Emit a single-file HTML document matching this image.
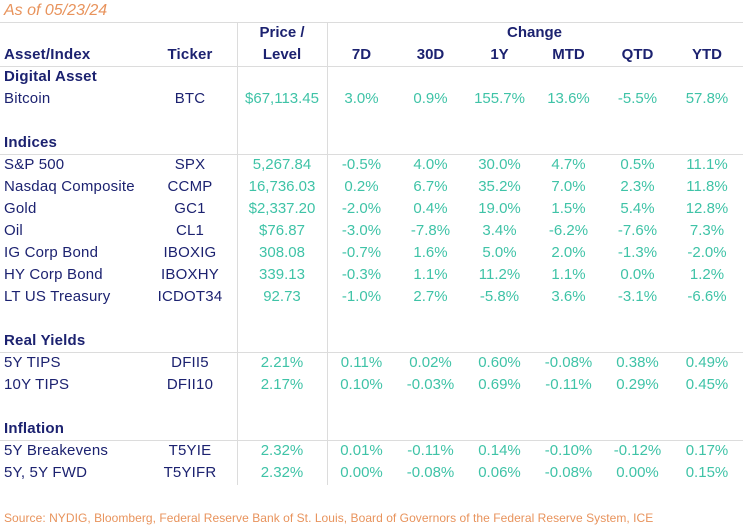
<!DOCTYPE html>
<html><head><meta charset="utf-8">
<style>
*{margin:0;padding:0;box-sizing:border-box}
html,body{width:743px;height:530px;background:#fff;overflow:hidden}
body{position:relative;font-family:"Liberation Sans",sans-serif;color:#1c2270}
.t{position:absolute;left:4px;top:1px;font-style:italic;font-size:16px;color:#e8935c;line-height:20px}
.hl{position:absolute;left:0;width:743px;height:1px;background:#dcdcdc}
.vl{position:absolute;top:22px;height:463px;width:1px;background:#dcdcdc}
.r{position:absolute;left:0;width:743px;height:22px;line-height:22px;font-size:15px}
.r span{position:absolute;top:0;text-align:center;white-space:nowrap}
.lab{left:4px!important;text-align:left!important;letter-spacing:0.2px}
.b{font-weight:bold}
.tk{left:143px;width:94px;letter-spacing:0.2px}
.p{left:237px;width:90px}
.c1{left:327px;width:69px}.c2{left:396px;width:69px}.c3{left:465px;width:69px}
.c4{left:534px;width:69px}.c5{left:603px;width:69px}.c6{left:672px;width:70px}
.g{color:#3fc3a7}
.src{position:absolute;left:4px;top:510px;font-size:12px;color:#e8935c;line-height:16px;letter-spacing:0.05px}
</style></head><body>
<div class="t">As of 05/23/24</div>
<div class="hl" style="top:22px"></div>
<div class="hl" style="top:66px"></div>
<div class="hl" style="top:154px"></div>
<div class="hl" style="top:352px"></div>
<div class="hl" style="top:440px"></div>
<div class="vl" style="left:237px"></div>
<div class="vl" style="left:327px"></div>

<div class="r b" style="top:22px"><span class="p">Price /</span><span style="left:327px;width:415px">Change</span></div>
<div class="r b" style="top:44px"><span class="lab">Asset/Index</span><span class="tk">Ticker</span><span class="p">Level</span><span class="c1">7D</span><span class="c2">30D</span><span class="c3">1Y</span><span class="c4">MTD</span><span class="c5">QTD</span><span class="c6">YTD</span></div>

<div class="r b" style="top:66px"><span class="lab">Digital Asset</span></div>
<div class="r" style="top:88px"><span class="lab">Bitcoin</span><span class="tk">BTC</span><span class="p g">$67,113.45</span><span class="c1 g">3.0%</span><span class="c2 g">0.9%</span><span class="c3 g">155.7%</span><span class="c4 g">13.6%</span><span class="c5 g">-5.5%</span><span class="c6 g">57.8%</span></div>

<div class="r b" style="top:132px"><span class="lab">Indices</span></div>
<div class="r" style="top:154px"><span class="lab">S&amp;P 500</span><span class="tk">SPX</span><span class="p g">5,267.84</span><span class="c1 g">-0.5%</span><span class="c2 g">4.0%</span><span class="c3 g">30.0%</span><span class="c4 g">4.7%</span><span class="c5 g">0.5%</span><span class="c6 g">11.1%</span></div>
<div class="r" style="top:176px"><span class="lab">Nasdaq Composite</span><span class="tk">CCMP</span><span class="p g">16,736.03</span><span class="c1 g">0.2%</span><span class="c2 g">6.7%</span><span class="c3 g">35.2%</span><span class="c4 g">7.0%</span><span class="c5 g">2.3%</span><span class="c6 g">11.8%</span></div>
<div class="r" style="top:198px"><span class="lab">Gold</span><span class="tk">GC1</span><span class="p g">$2,337.20</span><span class="c1 g">-2.0%</span><span class="c2 g">0.4%</span><span class="c3 g">19.0%</span><span class="c4 g">1.5%</span><span class="c5 g">5.4%</span><span class="c6 g">12.8%</span></div>
<div class="r" style="top:220px"><span class="lab">Oil</span><span class="tk">CL1</span><span class="p g">$76.87</span><span class="c1 g">-3.0%</span><span class="c2 g">-7.8%</span><span class="c3 g">3.4%</span><span class="c4 g">-6.2%</span><span class="c5 g">-7.6%</span><span class="c6 g">7.3%</span></div>
<div class="r" style="top:242px"><span class="lab">IG Corp Bond</span><span class="tk">IBOXIG</span><span class="p g">308.08</span><span class="c1 g">-0.7%</span><span class="c2 g">1.6%</span><span class="c3 g">5.0%</span><span class="c4 g">2.0%</span><span class="c5 g">-1.3%</span><span class="c6 g">-2.0%</span></div>
<div class="r" style="top:264px"><span class="lab">HY Corp Bond</span><span class="tk">IBOXHY</span><span class="p g">339.13</span><span class="c1 g">-0.3%</span><span class="c2 g">1.1%</span><span class="c3 g">11.2%</span><span class="c4 g">1.1%</span><span class="c5 g">0.0%</span><span class="c6 g">1.2%</span></div>
<div class="r" style="top:286px"><span class="lab">LT US Treasury</span><span class="tk">ICDOT34</span><span class="p g">92.73</span><span class="c1 g">-1.0%</span><span class="c2 g">2.7%</span><span class="c3 g">-5.8%</span><span class="c4 g">3.6%</span><span class="c5 g">-3.1%</span><span class="c6 g">-6.6%</span></div>

<div class="r b" style="top:330px"><span class="lab">Real Yields</span></div>
<div class="r" style="top:352px"><span class="lab">5Y TIPS</span><span class="tk">DFII5</span><span class="p g">2.21%</span><span class="c1 g">0.11%</span><span class="c2 g">0.02%</span><span class="c3 g">0.60%</span><span class="c4 g">-0.08%</span><span class="c5 g">0.38%</span><span class="c6 g">0.49%</span></div>
<div class="r" style="top:374px"><span class="lab">10Y TIPS</span><span class="tk">DFII10</span><span class="p g">2.17%</span><span class="c1 g">0.10%</span><span class="c2 g">-0.03%</span><span class="c3 g">0.69%</span><span class="c4 g">-0.11%</span><span class="c5 g">0.29%</span><span class="c6 g">0.45%</span></div>

<div class="r b" style="top:418px"><span class="lab">Inflation</span></div>
<div class="r" style="top:440px"><span class="lab">5Y Breakevens</span><span class="tk">T5YIE</span><span class="p g">2.32%</span><span class="c1 g">0.01%</span><span class="c2 g">-0.11%</span><span class="c3 g">0.14%</span><span class="c4 g">-0.10%</span><span class="c5 g">-0.12%</span><span class="c6 g">0.17%</span></div>
<div class="r" style="top:462px"><span class="lab">5Y, 5Y FWD</span><span class="tk">T5YIFR</span><span class="p g">2.32%</span><span class="c1 g">0.00%</span><span class="c2 g">-0.08%</span><span class="c3 g">0.06%</span><span class="c4 g">-0.08%</span><span class="c5 g">0.00%</span><span class="c6 g">0.15%</span></div>

<div class="src">Source: NYDIG, Bloomberg, Federal Reserve Bank of St. Louis, Board of Governors of the Federal Reserve System, ICE</div>
</body></html>
